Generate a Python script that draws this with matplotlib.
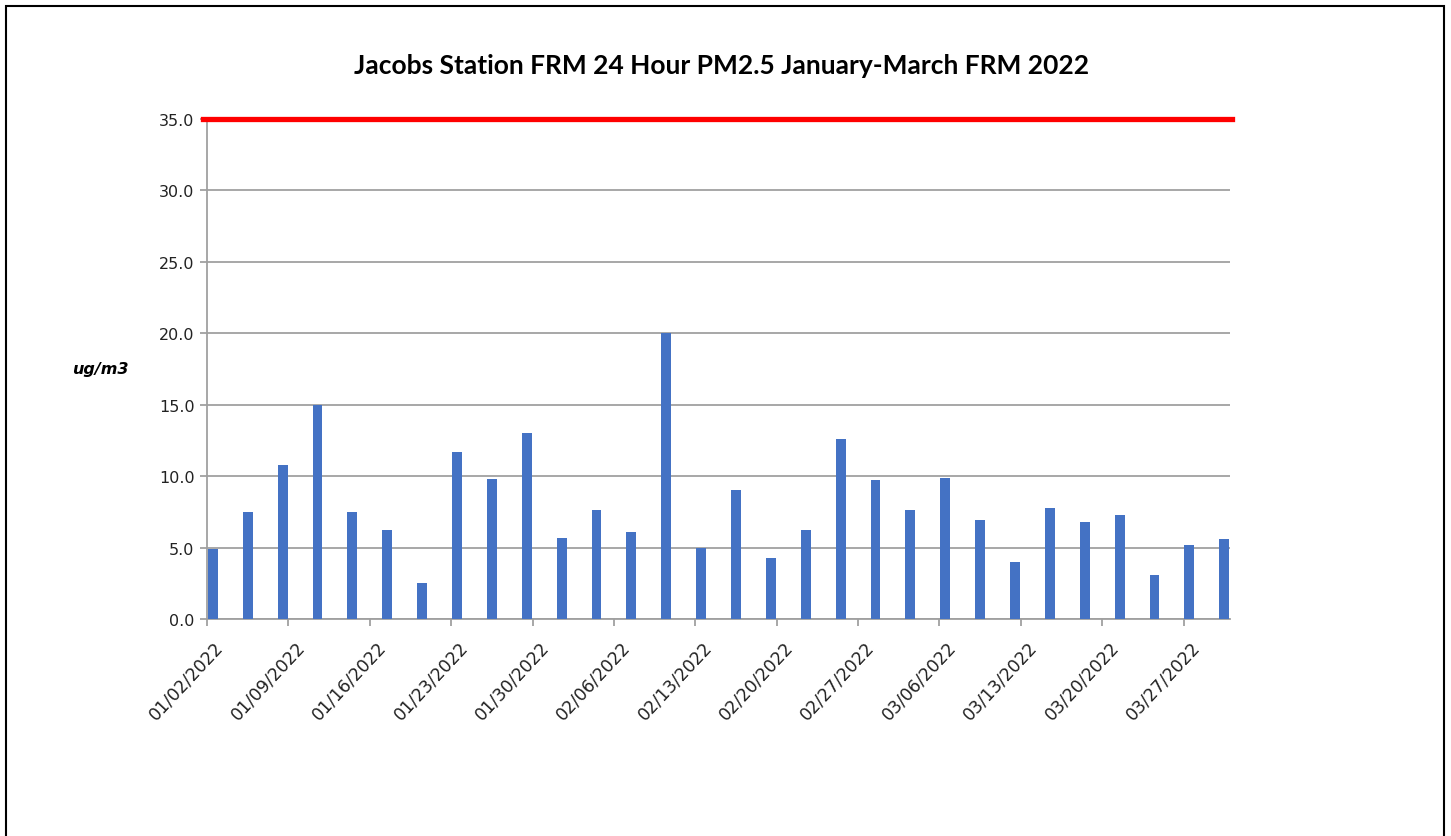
import matplotlib
matplotlib.use("Agg")
import matplotlib.pyplot as plt
import matplotlib.dates as mdates
import matplotlib.transforms as mtransforms
from matplotlib.patches import Rectangle
import numpy as np
import datetime as dt

plt.rcParams["font.family"] = ["DejaVu Sans"]

# sample dates (every 3 days) and 24 hour PM2.5 values
dates = ["01/02/2022", "01/05/2022", "01/08/2022", "01/11/2022", "01/14/2022",
         "01/17/2022", "01/20/2022", "01/23/2022", "01/26/2022", "01/29/2022",
         "02/01/2022", "02/04/2022", "02/07/2022", "02/10/2022", "02/13/2022",
         "02/16/2022", "02/19/2022", "02/22/2022", "02/25/2022", "02/28/2022",
         "03/03/2022", "03/06/2022", "03/09/2022", "03/12/2022", "03/15/2022",
         "03/18/2022", "03/21/2022", "03/24/2022", "03/27/2022", "03/30/2022"]
pm25 = [4.9, 7.5, 10.8, 15.0, 7.5, 6.2, 2.5, 11.7, 9.8, 13.0,
        5.7, 7.6, 6.1, 20.0, 5.0, 9.0, 4.3, 6.2, 12.6, 9.7,
        7.6, 9.9, 6.9, 4.0, 7.8, 6.8, 7.3, 3.1, 5.2, 5.6]
standard = 35.0
tick_labels = ["01/02/2022", "01/09/2022", "01/16/2022", "01/23/2022", "01/30/2022",
               "02/06/2022", "02/13/2022", "02/20/2022", "02/27/2022", "03/06/2022",
               "03/13/2022", "03/20/2022", "03/27/2022"]

d = [dt.datetime.strptime(s, "%m/%d/%Y") for s in dates]
# bar in the middle of its day, like excel date axis
xb = [mdates.date2num(x) + 0.5 for x in d]
xt = [mdates.date2num(dt.datetime.strptime(s, "%m/%d/%Y")) for s in tick_labels]

fig = plt.figure(figsize=(14.51, 8.37), dpi=100)
ax = fig.add_axes([0.1427, 0.2593, 0.7050, 0.5973])

ax.bar(xb, pm25, width=0.85, color="#4472C4", zorder=3)
ax.axhline(standard, xmin=-0.004, xmax=1.002, color="#FF0000", lw=3.8, zorder=4, clip_on=False)

ax.set_xlim(mdates.date2num(dt.datetime(2022, 1, 2)), mdates.date2num(dt.datetime(2022, 3, 31)))
ax.set_ylim(0, 35)
ax.set_yticks(np.arange(0, 36, 5))
ax.set_yticklabels(["%.1f" % v for v in np.arange(0, 36, 5)], fontsize=11.5, color="#222222")
ax.set_xticks(xt)
ax.set_xticklabels(tick_labels, rotation=47, ha="right", va="top", rotation_mode="anchor",
                   fontsize=12.5, color="#222222")

ax.grid(axis="y", color="#A0A0A0", lw=1.3, zorder=0)
for s in ["top", "right"]:
    ax.spines[s].set_visible(False)
for s in ["left", "bottom"]:
    ax.spines[s].set_color("#A0A0A0")
    ax.spines[s].set_linewidth(1.3)
ax.tick_params(axis="both", color="#A0A0A0", length=5, width=1.3, pad=4)
ax.tick_params(axis="x", pad=8)

# move the date labels a bit right, excel puts them that way
off = mtransforms.ScaledTranslation(7 / 100, 0, fig.dpi_scale_trans)
for lab in ax.xaxis.get_majorticklabels():
    lab.set_transform(lab.get_transform() + off)

fig.text(0.4976, 0.921, "Jacobs Station FRM 24 Hour PM2.5 January-March FRM 2022",
         ha="center", va="center", fontsize=19, fontweight="bold", family="Lato")
fig.text(0.069, 0.558, "ug/m3", ha="center", va="center", fontsize=11.5,
         fontweight="bold", fontstyle="italic")

# black frame round the chart
fig.patches.append(Rectangle((6 / 1451, -0.01), 1438 / 1451, 1 - 7 / 837 + 0.01,
                             transform=fig.transFigure, fill=False, edgecolor="black", lw=1.5))

plt.savefig("out.png")
